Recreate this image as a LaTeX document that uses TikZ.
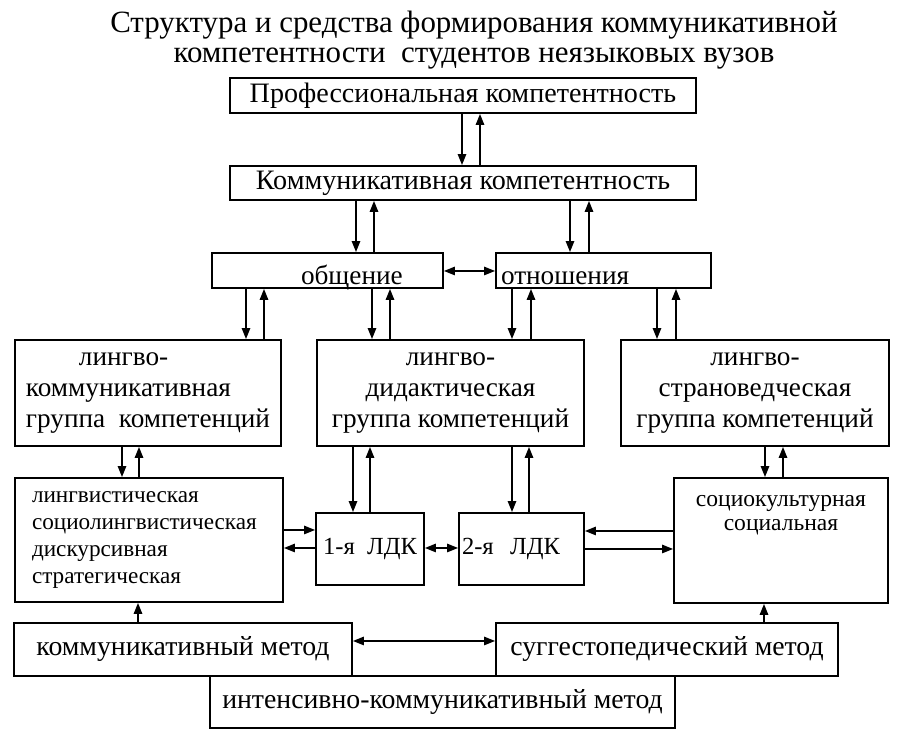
\documentclass[tikz,border=0pt]{standalone}
\usepackage{fontspec}
\setmainfont{Liberation Serif}
\usetikzlibrary{arrows.meta}

\begin{document}
\begin{tikzpicture}[
        box/.style={rectangle, draw, line width=1.1pt, inner sep=0pt, align=center, font=\fontsize{15.5}{17.6}\selectfont},
        method/.style={box, minimum height=1.06cm, font=\fontsize{15.8}{18}\selectfont},
        arrow/.style={line width=0.8pt, -{Triangle[length=2.2mm, width=1.7mm]}},
        twoway/.style={line width=0.8pt, {Triangle[length=2.2mm, width=1.7mm]}-{Triangle[length=2.2mm, width=1.7mm]}}
    ]
        \useasboundingbox (0,0) rectangle (18,14.76);
        \node[align=center, inner sep=0pt, font=\fontsize{17.6}{17}\selectfont] (title) at (9.48,13.95) {Структура и средства формирования коммуникативной\\компетентности\ \ студентов неязыковых вузов};

        \node[box, minimum width=9.32cm, minimum height=0.70cm, font=\fontsize{16}{19}\selectfont] (prof) at (9.26,12.85) {Профессиональная компетентность};
        \node[box, minimum width=9.32cm, minimum height=0.68cm, font=\fontsize{16}{19}\selectfont] (comm) at (9.26,11.10) {Коммуникативная компетентность};
        \node[box, align=left, inner xsep=0.1cm, text width=4.42cm, text height=0.64cm, text depth=0.06cm] (obsch) at (6.55,9.35) {\hspace*{1.68cm}общение};
        \node[box, align=left, inner xsep=0.1cm, text width=4.10cm, text height=0.64cm, text depth=0.06cm] (otnosh) at (12.07,9.35) {отношения};

        \node[box, align=left, minimum width=5.32cm, minimum height=2.12cm] (gcomm) at (2.96,6.90) {\hspace*{1.06cm}лингво-\\коммуникативная\\группа\ \ компетенций};
        \node[box, minimum width=5.34cm, minimum height=2.12cm] (gdid) at (9.01,6.90) {лингво-\\дидактическая\\группа компетенций};
        \node[box, minimum width=5.36cm, minimum height=2.12cm] (gstran) at (15.10,6.90) {лингво-\\страноведческая\\группа компетенций};

        \node[box, align=left, inner xsep=0.34cm, text width=4.68cm, minimum height=2.48cm, font=\fontsize{13.2}{15.2}\selectfont] (ling) at (2.98,3.96) {лингвистическая\\социолингвистическая\\дискурсивная\\стратегическая};
        \node[box, minimum width=2.16cm, minimum height=1.44cm, font=\fontsize{14}{16}\selectfont] (ldk1) at (7.40,3.78) {1-я\ \ ЛДК};
        \node[box, align=left, inner xsep=0.06cm, text width=2.38cm, minimum height=1.44cm, font=\fontsize{14}{16}\selectfont] (ldk2) at (10.43,3.78) {2-я\ \ ЛДК};
        \node[box, text width=4.28cm, text height=0.58cm, text depth=1.92cm, font=\fontsize{13.4}{13.1}\selectfont] (socio) at (15.62,3.95) {социокультурная\\социальная};

        \node[method, minimum width=6.76cm] (kmet) at (3.66,1.77) {коммуникативный метод};
        \node[method, minimum width=6.84cm] (smet) at (13.34,1.77) {суггестопедический метод};
        \node[method, minimum width=9.30cm, minimum height=1.04cm] (imet) at (8.85,0.72) {интенсивно-коммуникативный метод};

        \draw[arrow] (9.24,0 |- prof.south) -- (9.24,0 |- comm.north);
        \draw[arrow] (9.60,0 |- comm.north) -- (9.60,0 |- prof.south);
        \draw[arrow] (7.12,0 |- comm.south) -- (7.12,0 |- obsch.north);
        \draw[arrow] (7.48,0 |- obsch.north) -- (7.48,0 |- comm.south);
        \draw[arrow] (11.40,0 |- comm.south) -- (11.40,0 |- otnosh.north);
        \draw[arrow] (11.78,0 |- otnosh.north) -- (11.78,0 |- comm.south);
        \draw[twoway] (obsch.east |- 0,9.34) -- (otnosh.west |- 0,9.34);

        \draw[arrow] (4.92,0 |- obsch.south) -- (4.92,0 |- gcomm.north);
        \draw[arrow] (5.28,0 |- gcomm.north) -- (5.28,0 |- obsch.south);
        \draw[arrow] (7.44,0 |- obsch.south) -- (7.44,0 |- gdid.north);
        \draw[arrow] (7.80,0 |- gdid.north) -- (7.80,0 |- obsch.south);
        \draw[arrow] (10.24,0 |- otnosh.south) -- (10.24,0 |- gdid.north);
        \draw[arrow] (10.62,0 |- gdid.north) -- (10.62,0 |- otnosh.south);
        \draw[arrow] (13.14,0 |- otnosh.south) -- (13.14,0 |- gstran.north);
        \draw[arrow] (13.52,0 |- gstran.north) -- (13.52,0 |- otnosh.south);

        \draw[arrow] (2.44,0 |- gcomm.south) -- (2.44,0 |- ling.north);
        \draw[arrow] (2.78,0 |- ling.north) -- (2.78,0 |- gcomm.south);
        \draw[arrow] (7.06,0 |- gdid.south) -- (7.06,0 |- ldk1.north);
        \draw[arrow] (7.40,0 |- ldk1.north) -- (7.40,0 |- gdid.south);
        \draw[arrow] (10.24,0 |- gdid.south) -- (10.24,0 |- ldk2.north);
        \draw[arrow] (10.58,0 |- ldk2.north) -- (10.58,0 |- gdid.south);
        \draw[arrow] (15.30,0 |- gstran.south) -- (15.30,0 |- socio.north);
        \draw[arrow] (15.66,0 |- socio.north) -- (15.66,0 |- gstran.south);

        \draw[arrow] (ling.east |- 0,4.16) -- (ldk1.west |- 0,4.16);
        \draw[arrow] (ldk1.west |- 0,3.80) -- (ling.east |- 0,3.80);
        \draw[twoway] (ldk1.east |- 0,3.80) -- (ldk2.west |- 0,3.80);
        \draw[arrow] (socio.west |- 0,4.14) -- (ldk2.east |- 0,4.14);
        \draw[arrow] (ldk2.east |- 0,3.78) -- (socio.west |- 0,3.78);

        \draw[arrow] (2.76,0 |- kmet.north) -- (2.76,0 |- ling.south);
        \draw[arrow] (15.28,0 |- smet.north) -- (15.28,0 |- socio.south);
        \draw[twoway] (kmet.east |- 0,1.94) -- (smet.west |- 0,1.94);
    \end{tikzpicture}
\end{document}
